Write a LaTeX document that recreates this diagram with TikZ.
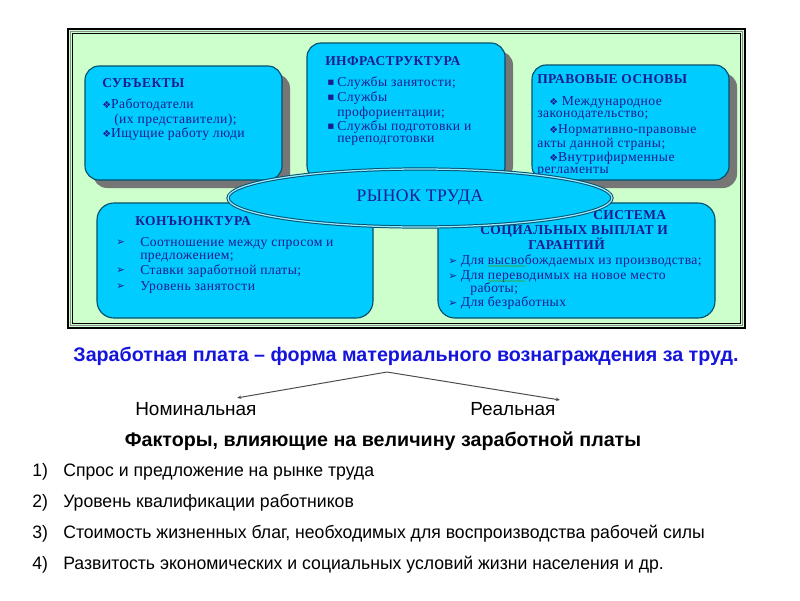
\documentclass[tikz,border=0pt]{standalone}
\usepackage{fontspec}
\setmainfont{Liberation Serif}
\newfontfamily\boxfont[LetterSpace=3]{Liberation Serif}
\newfontfamily\lowfont{Liberation Sans}
\newfontfamily\listfont[FakeStretch=0.98]{Liberation Sans}
\newfontfamily\symfont{DejaVu Sans}
\usetikzlibrary{arrows.meta,decorations.pathmorphing,shapes.geometric}
\definecolor{framegreen}{RGB}{204,255,204}
\definecolor{boxcyan}{RGB}{0,204,255}
\definecolor{boxedge}{RGB}{0,80,110}
\definecolor{navytext}{RGB}{28,28,140}
\definecolor{shadowgray}{RGB}{118,118,118}
\definecolor{titleblue}{RGB}{20,20,220}
\definecolor{spellgreen}{RGB}{60,160,60}
\newcommand{\dia}{{\symfont\fontsize{7}{8}\selectfont ❖}}
\newcommand{\arr}{{\symfont\fontsize{7.5}{8}\selectfont ➢}}
\newcommand{\sqb}{{\symfont\fontsize{7.5}{8}\selectfont ▪}}
\tikzset{
  infobox/.style={fill=boxcyan, draw=boxedge, line width=0.8pt, rounded corners=10pt},
  boxshadow/.style={fill=shadowgray, rounded corners=10pt},
  boxhead/.style={anchor=west, inner sep=0pt, text=navytext, font=\boxfont\bfseries\fontsize{9.6}{10}\selectfont},
  boxline/.style={anchor=west, inner sep=0pt, text=navytext, font=\boxfont\fontsize{9.7}{10}\selectfont},
  lowtext/.style={anchor=west, inner sep=0pt, font=\listfont\fontsize{12.8}{14}\selectfont},
  wagearrow/.style={draw=black!70, line width=0.7pt, -{Stealth[length=3pt,width=2.4pt]}},
}
\begin{document}
\begin{tikzpicture}[x=0.025cm, y=-0.025cm]
  \useasboundingbox (0,0) rectangle (800,600);
  % frame
  \fill[framegreen] (67,28) rectangle (746,329);
  \draw[black, line width=1.6pt] (68,29) rectangle (745,328);
  \draw[black!45, line width=0.9pt] (70.5,31.5) rectangle (742.5,325.5);
  \draw[black, line width=0.5pt] (72.5,33.5) rectangle (740.5,323.5);
  % upper boxes with shadows
  \fill[boxshadow] (93,74) rectangle (290,188);
  \fill[boxshadow] (315,51) rectangle (513,180);
  \fill[boxshadow] (540,73) rectangle (737,188);
  \draw[infobox] (85,66) rectangle (282,180);
  \draw[infobox] (307,43) rectangle (505,180);
  \draw[infobox] (532,65) rectangle (729,180);
  % lower boxes
  \draw[infobox, rounded corners=12pt] (97,203) rectangle (373,318);
  \draw[infobox, rounded corners=12pt] (438,203) rectangle (715,318);
  % subjects
  \node[boxhead] (subj) at (102,83) {СУБЪЕКТЫ};
  \node[boxline] (subj1) at (102,105) {\dia Работодатели};
  \node[boxline] (subj2) at (114,120) {(их представители);};
  \node[boxline] (subj3) at (102,134) {\dia Ищущие работу люди};
  % infrastructure
  \node[boxhead] (infra) at (325,61) {ИНФРАСТРУКТУРА};
  \foreach \y/\txt in {83/{Службы занятости;}, 98/{Службы}, 113/{профориентации;}, 127/{Службы подготовки и}, 141/{переподготовки}}
    \node[boxline] at (337,\y) {\txt};
  \foreach \y in {83,98,127}
    \node[anchor=west, inner sep=0pt, text=navytext] at (327,\y) {\sqb};
  % legal basis
  \node[boxhead] (legal) at (537,79) {ПРАВОВЫЕ ОСНОВЫ};
  \begin{scope}
    \clip (532,65) rectangle (729,173);
    \node[boxline] (legal1) at (549,102) {\dia\ Международное};
    \node[boxline] (legal2) at (537,116) {законодательство;};
    \node[boxline] (legal3) at (549,130) {\dia Нормативно-правовые};
    \node[boxline] (legal4) at (537,144) {акты данной страны;};
    \node[boxline] (legal5) at (549,158) {\dia Внутрифирменные};
    \node[boxline] (legal6) at (537,172) {регламенты};
  \end{scope}
  % conjuncture
  \node[boxhead] (conj) at (135,221) {КОНЪЮНКТУРА};
  \foreach \y/\txt in {243/{Соотношение между спросом и}, 258/{предложением;}, 271/{Ставки заработной платы;}, 287/{Уровень занятости}}
    \node[boxline] at (140,\y) {\txt};
  \foreach \y in {243,271,287}
    \node[anchor=west, inner sep=0pt, text=navytext] at (116,\y) {\arr};
  % social guarantees
  \node[boxhead] (social1) at (593,215) {СИСТЕМА};
  \node[boxhead] (social2) at (480,231) {СОЦИАЛЬНЫХ ВЫПЛАТ И};
  \node[boxhead] (social3) at (528,244) {ГАРАНТИЙ};
  \node[boxline] (soc1) at (448,261) {\arr\ Для высвобождаемых из производства;};
  \node[boxline] (soc2) at (448,276) {\arr\ Для переводимых на новое место};
  \node[boxline] (soc3) at (470,289) {работы;};
  \node[boxline] (soc4) at (448,303) {\arr\ Для безработных};
  \draw[spellgreen, line width=0.4pt, decorate, decoration={snake, amplitude=0.4pt, segment length=2pt}] (488,266) -- (525,266);
  \draw[spellgreen, line width=0.4pt, decorate, decoration={snake, amplitude=0.4pt, segment length=2pt}] (488,281) -- (525,281);
  % labour market
  \node[draw=boxedge, double=boxcyan!40!white, double distance=0.9pt, line width=0.7pt,
        fill=boxcyan, ellipse, minimum width=384*0.025cm, minimum height=58*0.025cm, inner sep=0pt,
        text=navytext, font=\boxfont\fontsize{12.5}{13}\selectfont] (market) at (420,198) {\raisebox{4pt}{РЫНОК ТРУДА}};
  % wage
  \node[lowtext, anchor=center, text=titleblue, font=\lowfont\bfseries\fontsize{14}{16}\selectfont] (wage) at (406,356) {Заработная плата – форма материального вознаграждения за труд.};
  \coordinate (apex) at (387,372);
  \node[lowtext, font=\lowfont\fontsize{13.5}{15}\selectfont] (nom) at (135,409) {Номинальная};
  \node[lowtext, font=\lowfont\fontsize{13.5}{15}\selectfont] (real) at (470,409) {Реальная};
  \draw[wagearrow] (apex) -- ([xshift=-14pt,yshift=3pt]nom.north east);
  \draw[wagearrow] (apex) -- ([xshift=3pt,yshift=1.5pt]real.north east);
  % factors
  \node[lowtext, anchor=center, font=\lowfont\bfseries\fontsize{14}{16}\selectfont] (factors) at (383,441) {Факторы, влияющие на величину заработной платы};
  \foreach \txt [count=\i] in {{Спрос и предложение на рынке труда}, {Уровень квалификации работников}, {Стоимость жизненных благ, необходимых для воспроизводства рабочей силы}, {Развитость экономических и социальных условий жизни населения и др.}} {
    \node[lowtext] (num\i) at (32,441+31*\i) {\i)};
    \node[lowtext] (item\i) at (63,441+31*\i) {\txt};
  }
\end{tikzpicture}
\end{document}
